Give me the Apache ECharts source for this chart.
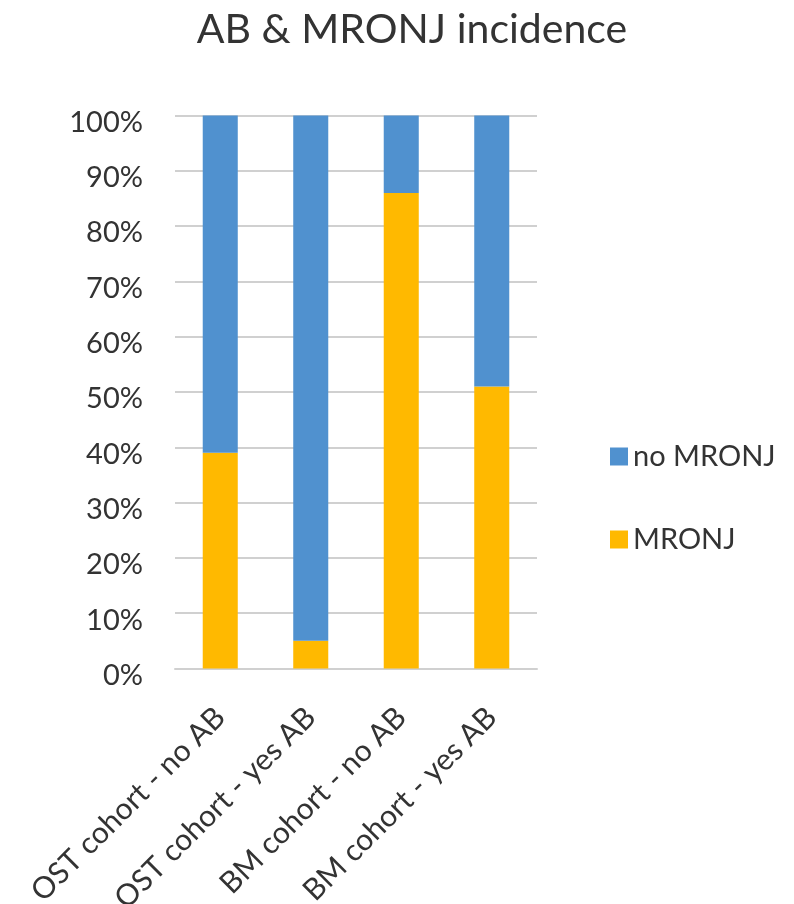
<!DOCTYPE html>
<html>
<head>
<meta charset="utf-8">
<script src="https://cdn.jsdelivr.net/npm/echarts@6/dist/echarts.min.js"></script>
<style>
  html, body { margin: 0; padding: 0; background: #fff; }
  #chart { width: 794px; height: 904px; }
</style>
</head>
<body>
<div id="chart"></div>
<script>
// Cohorts on the x axis
const categories = ['OST cohort - no AB', 'OST cohort - yes AB', 'BM cohort - no AB', 'BM cohort - yes AB'];
// Share of patients (%) with MRONJ in each cohort
const mronj = [39, 5, 86, 51];
// Share of patients (%) without MRONJ
const noMronj = [61, 95, 14, 49];
// Y axis ticks
const yTicks = [0, 10, 20, 30, 40, 50, 60, 70, 80, 90, 100];

const FONT = 'Lato, "Open Sans", sans-serif';
const TEXT = '#333333';

const chart = echarts.init(document.getElementById('chart'), null, { renderer: 'canvas' });

chart.setOption({
  backgroundColor: '#ffffff',
  animation: false,
  title: {
    text: 'AB & MRONJ incidence',
    left: 407,
    textAlign: 'center',
    top: 4,
    textStyle: { fontFamily: FONT, fontSize: 41, fontWeight: 'normal', color: TEXT }
  },
  legend: {
    orient: 'vertical',
    left: 605,
    top: 437,
    itemWidth: 18,
    itemHeight: 18,
    itemGap: 54,
    icon: 'rect',
    data: ['no MRONJ', 'MRONJ'],
    textStyle: { fontFamily: FONT, fontSize: 29, color: TEXT }
  },
  grid: {
    left: 175, right: 257, top: 115.5, bottom: 235.5,
    containLabel: false,
    outerBoundsMode: 'none'
  },
  xAxis: {
    type: 'category',
    data: categories,
    axisLine: { show: true, lineStyle: { color: '#d0d0d0', width: 2 } },
    axisTick: { show: false },
    axisLabel: {
      rotate: 45,
      interval: 0,
      margin: 44,
      fontFamily: FONT,
      fontSize: 30,
      color: TEXT
    }
  },
  yAxis: {
    type: 'value',
    min: yTicks[0],
    max: yTicks[yTicks.length - 1],
    interval: yTicks[1] - yTicks[0],
    axisLine: { show: false },
    axisTick: { show: false },
    splitLine: { lineStyle: { color: '#d0d0d0', width: 2 } },
    axisLabel: {
      formatter: '{value}%',
      margin: 32,
      fontFamily: FONT,
      fontSize: 29,
      color: TEXT,
      verticalAlign: 'top',
      lineHeight: 14
    }
  },
  series: [
    {
      name: 'MRONJ',
      type: 'bar',
      stack: 'total',
      barWidth: '38.7%',
      data: mronj,
      itemStyle: { color: '#ffb900' }
    },
    {
      name: 'no MRONJ',
      type: 'bar',
      stack: 'total',
      barWidth: '38.7%',
      data: noMronj,
      itemStyle: { color: '#5091cf' }
    }
  ]
});
</script>
</body>
</html>
